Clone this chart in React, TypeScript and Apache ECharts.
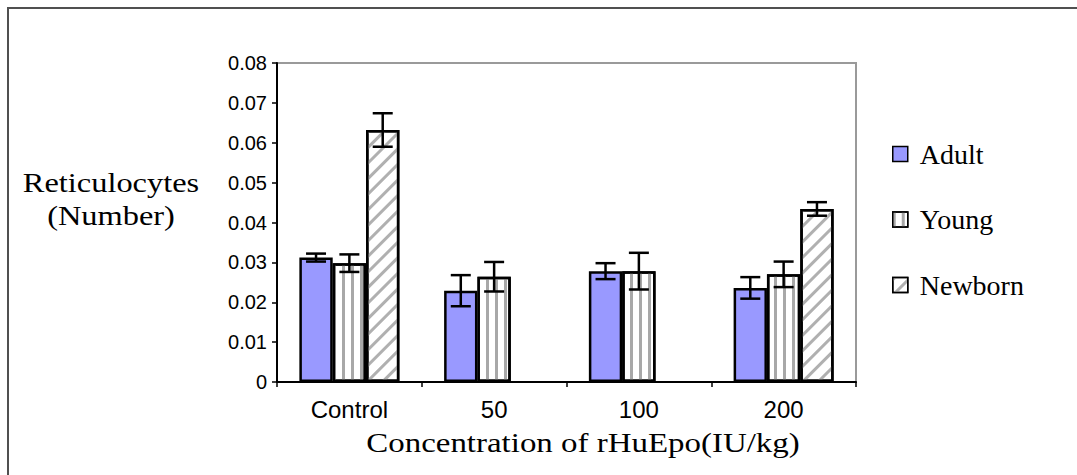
import React, { useEffect, useRef } from "react";
import * as echarts from "echarts";

const categories = ["Control", "50", "100", "200"];
const seriesNames = ["Adult", "Young", "Newborn"];
const adult = [0.0312, 0.0229, 0.0278, 0.0236];
const adultErr = [0.001, 0.0039, 0.002, 0.0027];
const young = [0.0298, 0.0264, 0.0278, 0.027];
const youngErr = [0.0022, 0.0037, 0.0046, 0.0032];
const newborn: (number | null)[] = [0.0632, null, null, 0.0434];
const newbornErr: (number | null)[] = [0.0042, null, null, 0.0017];
const yTicks = [0, 0.01, 0.02, 0.03, 0.04, 0.05, 0.06, 0.07, 0.08];

const CAT_GAP = 0.309;

export default function App() {
  const ref = useRef<HTMLDivElement>(null);
  useEffect(() => {
    document.body.style.margin = "0";
    if (!ref.current) return;
    const chart = echarts.init(ref.current, undefined, { renderer: "svg" });
    const values = [adult, young, newborn];
    const errs = [adultErr, youngErr, newbornErr];

    const barBase = {
      type: "bar",
      barGap: "0%",
      barCategoryGap: CAT_GAP * 100 + "%",
    };
    const border = { borderColor: "#000", borderWidth: 2.5 };

    const bars: any[] = [
      {
        ...barBase,
        name: "Adult",
        data: adult,
        itemStyle: { color: "#9999ff", ...border },
      },
      {
        ...barBase,
        name: "Young",
        data: young,
        itemStyle: {
          color: "#ffffff",
          ...border,
          decal: {
            symbol: "rect",
            color: "#a8a8a8",
            dashArrayX: [3, 6],
            dashArrayY: [1, 0],
            symbolSize: 1,
          },
        },
      },
      {
        ...barBase,
        name: "Newborn",
        data: newborn,
        itemStyle: {
          color: "#ffffff",
          ...border,
          decal: {
            symbol: "rect",
            color: "#b0b0b0",
            dashArrayX: [1, 0],
            dashArrayY: [3, 8],
            rotation: -Math.PI / 4,
            symbolSize: 1,
          },
        },
      },
    ];

    const errSeries = seriesNames.map((name, si) => ({
      type: "custom",
      name: "err-" + name,
      z: 5,
      encode: { x: 0, y: 1 },
      data: values[si]
        .map((v, i) => (v == null ? null : [i, v, errs[si][i]]))
        .filter((d) => d != null),
      renderItem: (params: any, api: any) => {
        const cat = api.value(0);
        const v = api.value(1);
        const e = api.value(2);
        const band = api.size([1, 0])[0];
        const bw = (band * (1 - CAT_GAP)) / 3;
        const off = (si - 1) * bw;
        const hi = api.coord([cat, v + e]);
        const lo = api.coord([cat, v - e]);
        const x = hi[0] + off;
        const cap = 10;
        const style = { stroke: "#000", lineWidth: 2.5 };
        return {
          type: "group",
          children: [
            { type: "line", shape: { x1: x, y1: hi[1], x2: x, y2: lo[1] }, style },
            { type: "line", shape: { x1: x - cap, y1: hi[1], x2: x + cap, y2: hi[1] }, style },
            { type: "line", shape: { x1: x - cap, y1: lo[1], x2: x + cap, y2: lo[1] }, style },
          ],
        };
      },
    }));

    chart.setOption({
      animation: false,
      backgroundColor: "#ffffff",
      grid: {
        left: 277,
        top: 63,
        right: 221,
        bottom: 93,
        show: true,
        borderColor: "#9a9a9a",
        borderWidth: 2,
        backgroundColor: "#ffffff",
      },
      legend: {
        data: seriesNames,
        orient: "vertical",
        left: 892,
        top: 139,
        padding: 0,
        itemWidth: 15,
        itemHeight: 15,
        itemGap: 35.5,
        icon: "rect",
        itemStyle: { borderColor: "#000", borderWidth: 1.5 },
        textStyle: {
          fontFamily: "'Liberation Serif', 'Times New Roman', serif",
          fontSize: 28,
          color: "#000",
          lineHeight: 30,
          padding: [0, 0, 0, 7],
        },
      },
      xAxis: {
        type: "category",
        data: categories,
        axisLine: { lineStyle: { color: "#000", width: 2 } },
        axisTick: { show: true, length: 5, lineStyle: { color: "#000", width: 1.5 } },
        axisLabel: {
          color: "#000",
          fontFamily: "'Liberation Sans', Arial, sans-serif",
          fontSize: 24,
          margin: 15,
        },
      },
      yAxis: {
        type: "value",
        min: yTicks[0],
        max: yTicks[yTicks.length - 1],
        interval: yTicks[1] - yTicks[0],
        splitLine: { show: false },
        axisLine: { show: true, lineStyle: { color: "#000", width: 2 } },
        axisTick: { show: true, length: 5, lineStyle: { color: "#000", width: 1.5 } },
        axisLabel: {
          color: "#000",
          fontFamily: "'Liberation Sans', Arial, sans-serif",
          fontSize: 20,
          margin: 10,
          formatter: (v: number) => (v === 0 ? "0" : v.toFixed(2)),
        },
      },
      graphic: [
        {
          type: "rect",
          silent: true,
          shape: { x: 8, y: 8, width: 1200, height: 600 },
          style: { fill: "none", stroke: "#505050", lineWidth: 2 },
        },
        {
          type: "text",
          x: 111,
          y: 199,
          scaleX: 1.2,
          style: {
            text: "Reticulocytes\n(Number)",
            fontFamily: "'Liberation Serif', 'Times New Roman', serif",
            fontSize: 27,
            lineHeight: 33,
            fill: "#000",
            align: "center",
            verticalAlign: "middle",
            textAlign: "center",
            textVerticalAlign: "middle",
          },
        },
        {
          type: "text",
          x: 583,
          y: 443,
          scaleX: 1.22,
          style: {
            text: "Concentration of rHuEpo(IU/kg)",
            fontFamily: "'Liberation Serif', 'Times New Roman', serif",
            fontSize: 27,
            fill: "#000",
            align: "center",
            verticalAlign: "middle",
            textAlign: "center",
            textVerticalAlign: "middle",
          },
        },
      ],
      series: [...bars, ...errSeries],
    });
    return () => chart.dispose();
  }, []);
  return <div ref={ref} style={{ width: 1077, height: 475 }} />;
}
